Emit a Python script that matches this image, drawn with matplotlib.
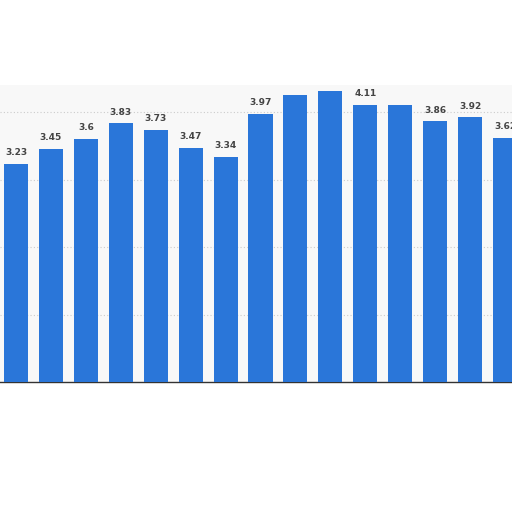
import numpy as np
import matplotlib.pyplot as plt

# bar values (two tops have hidden labels)
values = [3.23, 3.45, 3.6, 3.83, 3.73, 3.47, 3.34, 3.97, 4.25, 4.31, 4.11, 4.11, 3.86, 3.92, 3.62]
labels = ['3.23', '3.45', '3.6', '3.83', '3.73', '3.47', '3.34', '3.97', '', '', '4.11', '', '3.86', '3.92', '3.62']

bar_color = '#2a76d9'

fig = plt.figure(figsize=(5.12, 5.12), dpi=100)
ax = fig.add_axes([0, 130 / 512, 1, 297 / 512])
ax.set_facecolor('#f8f8f8')

x = np.arange(len(values))
ax.bar(x, values, width=0.69, color=bar_color, zorder=3)

for xi, v, lab in zip(x, values, labels):
    if lab:
        ax.text(xi, v + 0.1, lab, ha='center', va='bottom', fontsize=6.5,
                fontweight='bold', color='#444444', zorder=4)

ax.set_xlim(-0.458, 14.2)
ax.set_ylim(0, 4.4)
ax.set_yticks([1, 2, 3, 4])
ax.grid(axis='y', linestyle=(0, (1, 2)), color='#cccccc', linewidth=0.8, zorder=1)
ax.tick_params(left=False, bottom=False, labelleft=False, labelbottom=False)
for side in ['top', 'left', 'right']:
    ax.spines[side].set_visible(False)
ax.spines['bottom'].set_color('#333333')
ax.spines['bottom'].set_linewidth(1.0)

fig.savefig('out.png', dpi=100, facecolor='white')
